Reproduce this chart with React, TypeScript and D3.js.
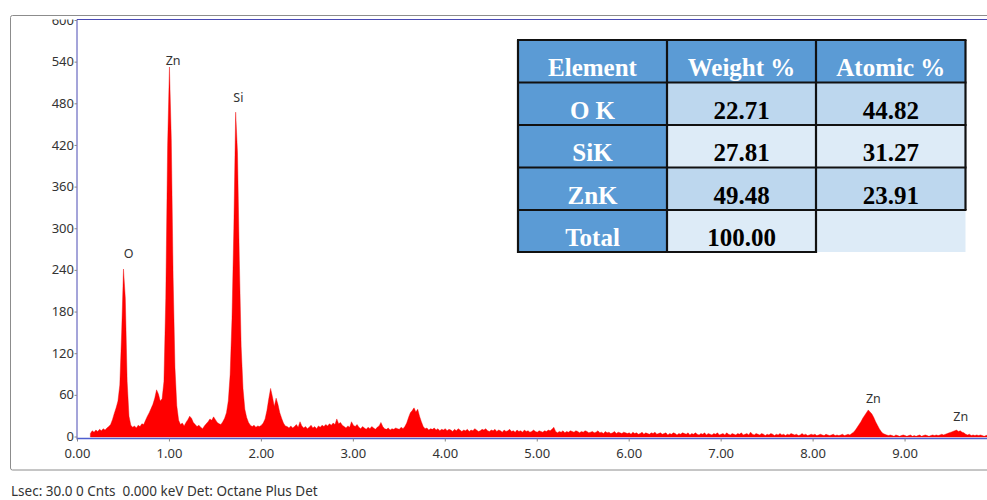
import React from "react";
import * as d3 from "d3";

// Spectrum channels: counts every 0.02 keV starting at 0.14 keV
const START_KEV = 0.14;
const STEP_KEV = 0.02;

// 0.14 – 0.98 keV (O Kα, Zn Lβ shoulder)
const countsLow = [
  5, 9, 7, 10, 8, 11, 9, 12, 10, 13,
  15, 18, 25, 34, 42, 52, 75, 150, 242, 200,
  80, 30, 17, 14, 16, 13, 17, 15, 19, 18,
  24, 30, 35, 41, 47, 56, 68, 62, 52, 55,
  80, 200, 420,
];
// 1.00 – 1.98 keV (Zn Lα, Si Kα)
const counts1 = [
  533, 430, 230, 100, 45, 24, 18, 20, 16, 21,
  25, 30, 27, 21, 18, 15, 17, 14, 12, 16,
  19, 22, 26, 24, 29, 25, 21, 19, 18, 22,
  27, 35, 52, 90, 170, 300, 468, 410, 255, 130,
  70, 40, 28, 21, 17, 15, 17, 14, 16, 15,
];
// 2.00 – 2.98 keV
const counts2 = [
  17, 20, 26, 38, 55, 70, 58, 44, 56, 47,
  35, 27, 20, 16, 15, 13, 16, 13, 15, 18,
  14, 22, 16, 13, 15, 12, 14, 17, 13, 15,
  12, 16, 14, 17, 15, 18, 16, 19, 17, 20,
  18, 26, 19, 21, 17, 15, 13, 16, 14, 22,
];
// 3.00 – 3.98 keV
const counts3 = [
  17, 15, 18, 14, 12, 15, 13, 11, 14, 12,
  15, 13, 11, 14, 16, 21, 15, 12, 11, 13,
  10, 12, 11, 13, 12, 11, 14, 12, 15, 20,
  28, 35, 38, 42, 36, 40, 30, 22, 15, 12,
  13, 10, 12, 11, 13, 10, 12, 9, 11, 10,
];
// 4.00 – 4.98 keV
const counts4 = [
  12, 9, 11, 10, 8, 11, 9, 12, 10, 8,
  10, 9, 11, 8, 10, 9, 12, 10, 8, 9,
  11, 10, 12, 9, 8, 10, 9, 11, 8, 10,
  9, 7, 10, 8, 9, 11, 8, 9, 7, 10,
  8, 9, 7, 10, 8, 9, 7, 8, 10, 8,
];
// 5.00 – 5.98 keV
const counts5 = [
  7, 9, 8, 7, 9, 8, 10, 9, 11, 14,
  8, 6, 8, 7, 9, 6, 8, 7, 9, 8,
  7, 9, 8, 6, 8, 7, 9, 8, 6, 7,
  8, 6, 7, 9, 6, 7, 5, 8, 6, 7,
  5, 6, 8, 5, 7, 6, 5, 7, 6, 5,
];
// 6.00 – 6.98 keV
const counts6 = [
  6, 4, 7, 5, 6, 4, 5, 7, 4, 6,
  5, 4, 6, 5, 7, 4, 5, 6, 4, 5,
  6, 3, 5, 4, 6, 5, 3, 5, 4, 6,
  5, 4, 6, 3, 5, 4, 6, 4, 3, 5,
  4, 6, 3, 5, 4, 3, 5, 4, 6, 3,
];
// 7.00 – 7.98 keV
const counts7 = [
  4, 5, 3, 6, 4, 3, 5, 4, 3, 5,
  4, 6, 3, 4, 5, 3, 7, 4, 3, 5,
  4, 3, 5, 4, 2, 4, 3, 5, 4, 2,
  4, 3, 5, 3, 4, 2, 4, 3, 5, 4,
  3, 4, 2, 3, 5, 3, 4, 2, 3, 4,
];
// 8.00 – 8.98 keV (Zn Kα)
const counts8 = [
  3, 4, 2, 3, 4, 3, 2, 4, 3, 2,
  3, 4, 2, 3, 2, 3, 4, 2, 3, 4,
  3, 5, 7, 10, 14, 18, 22, 27, 31, 35,
  39, 36, 33, 28, 22, 17, 12, 8, 5, 4,
  3, 2, 3, 2, 1, 3, 2, 1, 2, 3,
];
// 9.00 – 9.98 keV (Zn Kβ)
const counts9 = [
  2, 1, 2, 3, 1, 2, 1, 2, 3, 1,
  2, 3, 2, 1, 2, 3, 2, 3, 2, 3,
  4, 3, 4, 5, 6, 7, 8, 9, 10, 8,
  9, 7, 6, 4, 3, 4, 2, 3, 2, 3,
  2, 3, 2, 1, 2, 3, 2, 1, 2, 2,
];

const spectrum = [
  ...countsLow, ...counts1, ...counts2, ...counts3, ...counts4,
  ...counts5, ...counts6, ...counts7, ...counts8, ...counts9,
];

const yTickValues = [0, 60, 120, 180, 240, 300, 360, 420, 480, 540, 600];
const xTickValues = [0, 1, 2, 3, 4, 5, 6, 7, 8, 9];

// Element markers: label text, energy (keV) and label baseline height (counts)
const peakNames = ["O", "Zn", "Si", "Zn", "Zn"];
const peakKeV = [0.555, 1.04, 1.75, 8.655, 9.605];
const peakLabelCounts = [258, 536, 482, 49, 23];

// Quantification table
const tableHeader = ["Element", "Weight %", "Atomic %"];
const elementNames = ["O K", "SiK", "ZnK", "Total"];
const weightPct = ["22.71", "27.81", "49.48", "100.00"];
const atomicPct = ["44.82", "31.27", "23.91", ""];

const W = 987;
const H = 500;
const AXIS_FONT = "'Noto Sans', 'Open Sans', sans-serif";
const TABLE_FONT = "'Liberation Serif', 'Times New Roman', serif";

export default function App() {
  const x = d3.scaleLinear().domain([0, 10]).range([77.5, 997]);
  const y = d3.scaleLinear().domain([0, 600]).range([437, 20.5]);

  const area = d3
    .area<number>()
    .x((_, i) => x(START_KEV + i * STEP_KEV))
    .y0(y(0))
    .y1((d) => y(d))
    .curve(d3.curveLinear);

  const plotLeft = 77;
  const plotTop = 19.5;
  const axisY = 438.5;

  // table geometry
  const colX = [518, 667, 816, 965.5];
  const rowY = [40, 82.5, 125, 167.5, 210, 252];
  const headerBlue = "#5b9bd5";
  const rowFills = ["#bdd7ee", "#ddebf7", "#bdd7ee", "#ddebf7"];

  return (
    <svg
      width={W}
      height={H}
      style={{ position: "absolute", left: 0, top: 0, background: "#fff" }}
    >
      <defs>
        <clipPath id="plotClip">
          <rect x={plotLeft} y={plotTop} width={W - plotLeft} height={axisY - plotTop} />
        </clipPath>
        <clipPath id="yLabelClip">
          <rect x={0} y={plotTop} width={plotLeft} height={H} />
        </clipPath>
      </defs>

      {/* outer panel */}
      <rect x={10.5} y={15.5} width={1000} height={454.5} rx={2} fill="none" stroke="#8c8c8c" strokeWidth={1} />

      {/* spectrum */}
      <g clipPath="url(#plotClip)">
        <path d={area(spectrum) || ""} fill="#ff0000" stroke="#ee0000" strokeWidth={0.4} />
      </g>

      {/* plot frame */}
      <line x1={plotLeft} x2={W} y1={plotTop} y2={plotTop} stroke="#4a4ab4" strokeWidth={1} />
      <line x1={plotLeft} x2={plotLeft} y1={plotTop} y2={axisY + 1} stroke="#4a4ab4" strokeWidth={1} />
      <line x1={plotLeft} x2={W} y1={axisY} y2={axisY} stroke="#4f5fd0" strokeWidth={1.6} />

      {/* y axis */}
      <g clipPath="url(#yLabelClip)">
        {yTickValues.map((v) => (
          <g key={v}>
            <line x1={74.5} x2={plotLeft} y1={y(v)} y2={y(v)} stroke="#888" strokeWidth={1} />
            <text
              x={74}
              y={y(v) - 0.5}
              dy="0.35em"
              textAnchor="end"
              fontFamily={AXIS_FONT}
              fontSize={13}
              fill="#333"
            >
              {v}
            </text>
          </g>
        ))}
      </g>

      {/* x axis */}
      {xTickValues.map((v) => (
        <g key={v}>
          <line x1={x(v)} x2={x(v)} y1={axisY} y2={axisY + 3} stroke="#888" strokeWidth={1} />
          <text
            x={x(v)}
            y={458}
            textAnchor="middle"
            fontFamily={AXIS_FONT}
            fontSize={13}
            fill="#333"
          >
            {v.toFixed(2)}
          </text>
        </g>
      ))}

      {/* element markers */}
      {peakNames.map((name, i) => (
        <text
          key={i}
          x={x(peakKeV[i])}
          y={y(peakLabelCounts[i])}
          textAnchor="middle"
          fontFamily={AXIS_FONT}
          fontSize={12.5}
          fill="#333"
        >
          {name}
        </text>
      ))}

      {/* status line */}
      <text x={11} y={496} fontFamily={AXIS_FONT} fontSize={13.5} fill="#333" style={{ whiteSpace: "pre" }}>
        {"Lsec: 30.0 0 Cnts  0.000 keV Det: Octane Plus Det"}
      </text>

      {/* quantification table */}
      <g>
        {tableHeader.map((h, c) => (
          <rect key={"hb" + c} x={colX[c]} y={rowY[0]} width={colX[c + 1] - colX[c]} height={rowY[1] - rowY[0]} fill={headerBlue} />
        ))}
        {elementNames.map((_, r) => (
          <g key={"rb" + r}>
            <rect x={colX[0]} y={rowY[r + 1]} width={colX[1] - colX[0]} height={rowY[r + 2] - rowY[r + 1]} fill={headerBlue} />
            <rect x={colX[1]} y={rowY[r + 1]} width={colX[3] - colX[1]} height={rowY[r + 2] - rowY[r + 1]} fill={rowFills[r]} />
          </g>
        ))}

        {/* grid */}
        {rowY.slice(0, 5).map((ry, i) => (
          <line key={"h" + i} x1={colX[0] - 1} x2={colX[3] + 1} y1={ry} y2={ry} stroke="#111" strokeWidth={2.2} />
        ))}
        <line x1={colX[0] - 1} x2={colX[2] + 1} y1={rowY[5]} y2={rowY[5]} stroke="#111" strokeWidth={2.2} />
        {colX.slice(0, 3).map((cx, i) => (
          <line key={"v" + i} x1={cx} x2={cx} y1={rowY[0]} y2={rowY[5] + 1} stroke="#111" strokeWidth={2.2} />
        ))}
        <line x1={colX[3]} x2={colX[3]} y1={rowY[0]} y2={rowY[4]} stroke="#111" strokeWidth={2.2} />

        {/* text */}
        {tableHeader.map((h, c) => (
          <text key={"ht" + c} x={(colX[c] + colX[c + 1]) / 2} y={rowY[0] + 36} textAnchor="middle" fontFamily={TABLE_FONT} fontWeight="bold" fontSize={25} fill="#fff">
            {h}
          </text>
        ))}
        {elementNames.map((name, r) => (
          <g key={"rt" + r}>
            <text x={(colX[0] + colX[1]) / 2} y={rowY[r + 1] + 36} textAnchor="middle" fontFamily={TABLE_FONT} fontWeight="bold" fontSize={25} fill="#fff">
              {name}
            </text>
            <text x={(colX[1] + colX[2]) / 2} y={rowY[r + 1] + 36} textAnchor="middle" fontFamily={TABLE_FONT} fontWeight="bold" fontSize={25} fill="#000">
              {weightPct[r]}
            </text>
            <text x={(colX[2] + colX[3]) / 2} y={rowY[r + 1] + 36} textAnchor="middle" fontFamily={TABLE_FONT} fontWeight="bold" fontSize={25} fill="#000">
              {atomicPct[r]}
            </text>
          </g>
        ))}
      </g>
    </svg>
  );
}
